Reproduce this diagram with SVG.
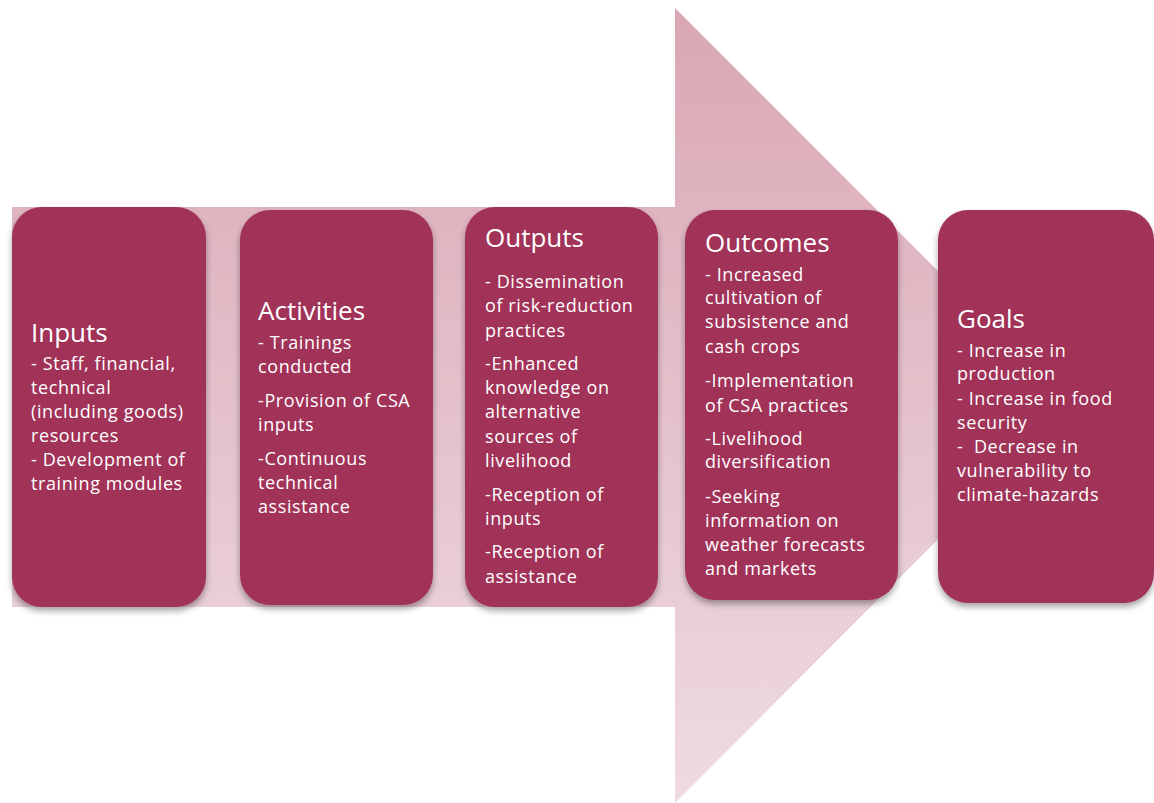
<svg xmlns="http://www.w3.org/2000/svg" width="1154" height="803" viewBox="0 0 1154 803">
<style>
.box{fill:#A13358;filter:url(#sh);}
.t{font-family:"Open Sans","Liberation Sans",sans-serif;fill:#ffffff;white-space:pre;}
.h{font-size:26px;}
.b{font-size:18px;letter-spacing:0.6px;}
</style>
<defs>
<linearGradient id="ag" gradientUnits="userSpaceOnUse" x1="0" y1="8" x2="0" y2="803">
<stop offset="0" stop-color="#d9a7b4"/>
<stop offset="1" stop-color="#efdbe1"/>
</linearGradient>
<filter id="sh" x="-10%" y="-10%" width="120%" height="125%">
<feDropShadow dx="0" dy="4" stdDeviation="3" flood-color="#000" flood-opacity="0.35"/>
</filter>
</defs>
<rect width="1154" height="803" fill="#ffffff"/>
<g id="arrow">
<polygon points="12,207 675,207 675,8 1072,405 675,803 675,607 12,607" fill="url(#ag)"/>
</g>
<g id="connectors"></g>
<g id="inputs">
<rect class="box" x="12" y="207" width="194" height="400" rx="30"/>
<text class="t h" x="31" y="342">Inputs</text>
<text class="t b" x="31" y="370">- Staff, financial,</text>
<text class="t b" x="31" y="394">technical</text>
<text class="t b" x="31" y="418">(including goods)</text>
<text class="t b" x="31" y="442">resources</text>
<text class="t b" x="31" y="466">- Development of</text>
<text class="t b" x="31" y="490">training modules</text>
</g>
<g id="activities">
<rect class="box" x="240" y="210" width="193" height="395" rx="30"/>
<text class="t h" x="258" y="320">Activities</text>
<text class="t b" x="258" y="349">- Trainings</text>
<text class="t b" x="258" y="373">conducted</text>
<text class="t b" x="258" y="407">-Provision of CSA</text>
<text class="t b" x="258" y="431">inputs</text>
<text class="t b" x="258" y="465">-Continuous</text>
<text class="t b" x="258" y="489">technical</text>
<text class="t b" x="258" y="513">assistance</text>
</g>
<g id="outputs">
<rect class="box" x="465" y="207" width="193" height="400" rx="30"/>
<text class="t h" x="485" y="247">Outputs</text>
<text class="t b" x="485" y="288">- Dissemination</text>
<text class="t b" x="485" y="312">of risk-reduction</text>
<text class="t b" x="485" y="337">practices</text>
<text class="t b" x="485" y="370">-Enhanced</text>
<text class="t b" x="485" y="394">knowledge on</text>
<text class="t b" x="485" y="418">alternative</text>
<text class="t b" x="485" y="443">sources of</text>
<text class="t b" x="485" y="467">livelihood</text>
<text class="t b" x="485" y="501">-Reception of</text>
<text class="t b" x="485" y="525">inputs</text>
<text class="t b" x="485" y="558">-Reception of</text>
<text class="t b" x="485" y="583">assistance</text>
</g>
<g id="outcomes">
<rect class="box" x="685" y="210" width="213" height="390" rx="30"/>
<text class="t h" x="705" y="252">Outcomes</text>
<text class="t b" x="705" y="281">- Increased</text>
<text class="t b" x="705" y="304">cultivation of</text>
<text class="t b" x="705" y="328">subsistence and</text>
<text class="t b" x="705" y="353">cash crops</text>
<text class="t b" x="705" y="387">-Implementation</text>
<text class="t b" x="705" y="412">of CSA practices</text>
<text class="t b" x="705" y="445">-Livelihood</text>
<text class="t b" x="705" y="468">diversification</text>
<text class="t b" x="705" y="503">-Seeking</text>
<text class="t b" x="705" y="527">information on</text>
<text class="t b" x="705" y="551">weather forecasts</text>
<text class="t b" x="705" y="575">and markets</text>
</g>
<g id="goals">
<rect class="box" x="938" y="210" width="216" height="393" rx="30"/>
<text class="t h" x="957" y="328">Goals</text>
<text class="t b" x="957" y="357">- Increase in</text>
<text class="t b" x="957" y="380">production</text>
<text class="t b" x="957" y="405">- Increase in food</text>
<text class="t b" x="957" y="429">security</text>
<text class="t b" x="957" y="453">-  Decrease in</text>
<text class="t b" x="957" y="477">vulnerability to</text>
<text class="t b" x="957" y="501">climate-hazards</text>
</g>
</svg>
